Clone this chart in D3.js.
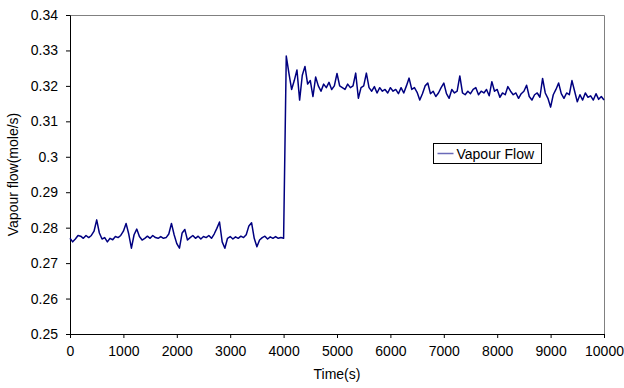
<!DOCTYPE html>
<html>
<meta charset="utf-8">
<style>
body {
  margin: 0;
  background: #fff;
  font-family: 'Liberation Sans', Arial, sans-serif;
}
svg {
  display: block;
}
.axis text {
  font-size: 14px;
  fill: #000;
  font-family: 'Liberation Sans', Arial, sans-serif;
}
.axis path, .axis line {
  stroke: #000;
}
text.title {
  font-size: 14px;
}
</style>
<body>
<svg width="624" height="388"></svg>
<script src="https://d3js.org/d3.v7.min.js"></script>
<script>

// time grid (s), one reading every 50 s
var times = d3.range(0, 10001, 50);

// vapour flow (mole/s) before the step, t = 0 .. 4000
var flowBefore = [
  0.2770, 0.2760, 0.2768, 0.2778, 0.2776, 0.2770, 0.2778, 0.2772, 0.2778, 0.2790,
  0.2822, 0.2785, 0.2768, 0.2772, 0.2760, 0.2770, 0.2766, 0.2775, 0.2772, 0.2778,
  0.2790, 0.2812, 0.2782, 0.2742, 0.2780, 0.2796, 0.2775, 0.2765, 0.2770, 0.2776,
  0.2770, 0.2778, 0.2772, 0.2770, 0.2775, 0.2770, 0.2772, 0.2782, 0.2812, 0.2780,
  0.2755, 0.2742, 0.2785, 0.2795, 0.2765, 0.2772, 0.2778, 0.2770, 0.2776, 0.2768,
  0.2775, 0.2772, 0.2778, 0.2770, 0.2782, 0.2798, 0.2816, 0.2760, 0.2742, 0.2770,
  0.2775, 0.2768, 0.2774, 0.2770, 0.2776, 0.2772, 0.2780, 0.2805, 0.2814, 0.2770,
  0.2746, 0.2765, 0.2772, 0.2776, 0.2768, 0.2774, 0.2770, 0.2775, 0.2770, 0.2772,
  0.2770
];

// vapour flow after the step, t = 4050 .. 10000
var flowAfter = [
  0.3284, 0.3235, 0.3190, 0.3215, 0.3245, 0.3160, 0.3230, 0.3255, 0.3205, 0.3215,
  0.3170, 0.3225, 0.3200, 0.3185, 0.3205, 0.3195, 0.3210, 0.3190, 0.3200, 0.3235,
  0.3200, 0.3195, 0.3190, 0.3205, 0.3195, 0.3200, 0.3236, 0.3165, 0.3195, 0.3200,
  0.3236, 0.3195, 0.3185, 0.3198, 0.3180, 0.3195, 0.3185, 0.3190, 0.3180, 0.3195,
  0.3185, 0.3190, 0.3178, 0.3195, 0.3180, 0.3200, 0.3222, 0.3190, 0.3195, 0.3182,
  0.3160, 0.3178, 0.3200, 0.3208, 0.3178, 0.3185, 0.3170, 0.3180, 0.3195, 0.3208,
  0.3178, 0.3165, 0.3190, 0.3180, 0.3185, 0.3228, 0.3180, 0.3175, 0.3185, 0.3178,
  0.3190, 0.3195, 0.3175, 0.3185, 0.3180, 0.3190, 0.3172, 0.3212, 0.3185, 0.3190,
  0.3168, 0.3180, 0.3175, 0.3198, 0.3185, 0.3175, 0.3180, 0.3165, 0.3178, 0.3185,
  0.3202, 0.3170, 0.3160, 0.3175, 0.3180, 0.3168, 0.3221, 0.3180, 0.3165, 0.3140,
  0.3175, 0.3190, 0.3208, 0.3178, 0.3165, 0.3180, 0.3175, 0.3215, 0.3185, 0.3155,
  0.3175, 0.3160, 0.3180, 0.3168, 0.3172, 0.3160, 0.3178, 0.3162, 0.3170, 0.3160
];

var xTicks = [0, 1000, 2000, 3000, 4000, 5000, 6000, 7000, 8000, 9000, 10000];
var yTicks = [0.25, 0.26, 0.27, 0.28, 0.29, 0.30, 0.31, 0.32, 0.33, 0.34];
var seriesName = "Vapour Flow";

var flow = flowBefore.concat(flowAfter);
var data = times.map(function(t, i) {
  return { t: t, v: flow[i] };
});

var svg = d3.select("svg"),
  margin = { top: 15, right: 20, bottom: 54, left: 70 },
  width = +svg.attr("width") - margin.left - margin.right,
  height = +svg.attr("height") - margin.top - margin.bottom;

var x = d3.scaleLinear().domain([0, 10000]).range([0, width]);
var y = d3.scaleLinear().domain([0.25, 0.34]).range([height, 0]);

var g = svg.append("g")
  .attr("transform", "translate(" + margin.left + "," + margin.top + ")");

// gray frame on top and right
g.append("path")
  .attr("d", "M0.5,0.5H" + (width + 0.5) + "V" + height)
  .attr("fill", "none")
  .attr("stroke", "#808080");

g.append("g").attr("class", "axis")
  .attr("transform", "translate(0," + height + ")")
  .call(d3.axisBottom(x).tickValues(xTicks).tickSize(4).tickSizeOuter(4).tickPadding(8).tickFormat(d3.format("d")));

g.append("g").attr("class", "axis")
  .call(d3.axisLeft(y).tickValues(yTicks).tickSize(4).tickSizeOuter(4).tickPadding(8).tickFormat(function(d) {
    return d3.format(".2f")(d).replace(/0$/, "").replace(/\.$/, "");
  }));

var line = d3.line()
  .x(function(d) { return x(d.t); })
  .y(function(d) { return y(d.v); });

g.append("path")
  .datum(data)
  .attr("fill", "none")
  .attr("stroke", "#000080")
  .attr("stroke-width", 1.5)
  .attr("stroke-linejoin", "round")
  .attr("d", line);

// legend
var legend = svg.append("g").attr("transform", "translate(433.5,143.5)");
legend.append("rect")
  .attr("width", 108).attr("height", 20)
  .attr("fill", "#fff").attr("stroke", "#000");
legend.append("line")
  .attr("x1", 4).attr("x2", 20).attr("y1", 10).attr("y2", 10)
  .attr("stroke", "#6a6ab8").attr("stroke-width", 1.5);
legend.append("text")
  .attr("x", 23).attr("y", 15)
  .attr("class", "title")
  .text(seriesName);

svg.append("text")
  .attr("class", "title")
  .attr("text-anchor", "middle")
  .attr("x", margin.left + width / 2)
  .attr("y", 379)
  .text("Time(s)");

svg.append("text")
  .attr("class", "title")
  .attr("text-anchor", "middle")
  .attr("transform", "translate(18," + (margin.top + height / 2) + ") rotate(-90)")
  .text("Vapour flow(mole/s)");

</script>
</body>
</html>
